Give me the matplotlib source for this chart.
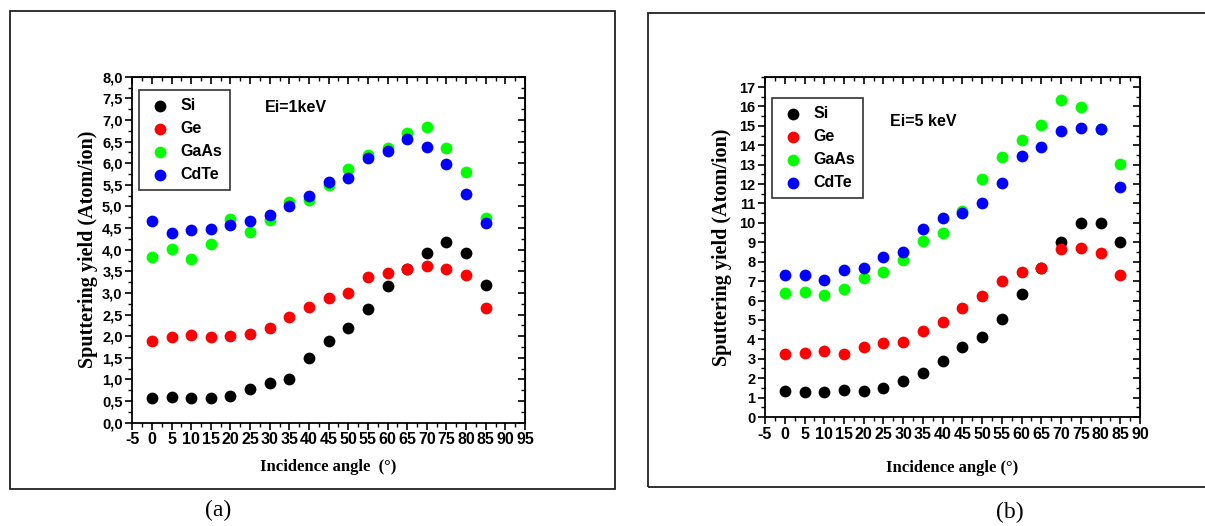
import matplotlib
matplotlib.use("Agg")
import matplotlib.pyplot as plt
import numpy as np
from matplotlib.ticker import MultipleLocator, FuncFormatter
from matplotlib.patches import Rectangle

angles = [0, 5, 10, 15, 20, 25, 30, 35, 40, 45, 50, 55, 60, 65, 70, 75, 80, 85]
materials = ['Si', 'Ge', 'GaAs', 'CdTe']
colors = ['#000000', '#ff0000', '#00ff00', '#0000ff']

# Ei = 1 keV
si_1kev = [0.58, 0.59, 0.58, 0.58, 0.61, 0.77, 0.91, 1.02, 1.50, 1.90, 2.20, 2.62, 3.16, 3.55, 3.92, 4.17, 3.93, 3.18]
ge_1kev = [1.89, 1.97, 2.02, 1.98, 2.01, 2.05, 2.19, 2.45, 2.67, 2.89, 3.01, 3.36, 3.45, 3.55, 3.63, 3.56, 3.42, 2.65]
gaas_1kev = [3.82, 4.01, 3.78, 4.14, 4.70, 4.41, 4.68, 5.11, 5.14, 5.49, 5.86, 6.19, 6.34, 6.69, 6.83, 6.35, 5.79, 4.73]
cdte_1kev = [4.67, 4.39, 4.45, 4.47, 4.57, 4.67, 4.80, 5.01, 5.24, 5.57, 5.66, 6.13, 6.29, 6.55, 6.37, 5.97, 5.28, 4.61]

# Ei = 5 keV
si_5kev = [1.34, 1.29, 1.30, 1.37, 1.32, 1.51, 1.83, 2.28, 2.88, 3.62, 4.11, 5.06, 6.34, 7.70, 9.01, 9.97, 9.99, 9.03]
ge_5kev = [3.27, 3.32, 3.41, 3.26, 3.63, 3.82, 3.84, 4.44, 4.88, 5.64, 6.24, 7.01, 7.45, 7.69, 8.67, 8.69, 8.43, 7.32]
gaas_5kev = [6.41, 6.46, 6.31, 6.58, 7.15, 7.45, 8.07, 9.07, 9.48, 10.63, 12.24, 13.40, 14.26, 15.03, 16.31, 15.96, 14.84, 13.01]
cdte_5kev = [7.34, 7.30, 7.08, 7.58, 7.68, 8.23, 8.52, 9.67, 10.27, 10.52, 11.05, 12.03, 13.47, 13.93, 14.72, 14.91, 14.86, 11.86]

SANS = 'Liberation Sans'
SERIF = 'Liberation Serif'

fig = plt.figure(figsize=(12.05, 5.26), dpi=100)

# outer frames around each panel
fig.patches.append(Rectangle((0.0083, 0.0703), 0.502, 0.9087, transform=fig.transFigure,
                             fill=False, edgecolor='#222222', linewidth=1.3))
fig.patches.append(Rectangle((0.5375, 0.0732), 0.47, 0.903, transform=fig.transFigure,
                             fill=False, edgecolor='#222222', linewidth=1.3))


def style_axes(ax, xmax, ymax, ymajor, yminor, comma):
    ax.set_xlim(-5, xmax)
    ax.set_ylim(0, ymax)
    ax.xaxis.set_major_locator(MultipleLocator(5))
    ax.xaxis.set_minor_locator(MultipleLocator(2.5))
    ax.yaxis.set_major_locator(MultipleLocator(ymajor))
    ax.yaxis.set_minor_locator(MultipleLocator(yminor))
    if comma:
        ax.yaxis.set_major_formatter(FuncFormatter(lambda v, p: ('%.1f' % v).replace('.', ',')))
    ax.xaxis.set_major_formatter(FuncFormatter(lambda v, p: '%d' % round(v)))
    ax.tick_params(which='major', direction='out', length=5, width=1.2, pad=2)
    ax.tick_params(which='minor', direction='out', length=3, width=1.0)
    for lab in ax.get_yticklabels():
        lab.set_fontfamily(SANS)
        lab.set_fontweight('bold')
        lab.set_fontsize(10.5)
    for lab in ax.get_xticklabels():
        lab.set_fontfamily(SANS)
        lab.set_fontweight('bold')
        lab.set_fontsize(11.5)
    for sp in ax.spines.values():
        sp.set_linewidth(1.3)
    # inward ticks on top and right
    top = ax.secondary_xaxis('top')
    top.xaxis.set_major_locator(MultipleLocator(5))
    top.xaxis.set_minor_locator(MultipleLocator(2.5))
    top.tick_params(which='major', direction='in', length=5, width=1.2, labeltop=False)
    top.tick_params(which='minor', direction='in', length=3, width=1.0)
    right = ax.secondary_yaxis('right')
    right.yaxis.set_major_locator(MultipleLocator(ymajor))
    right.yaxis.set_minor_locator(MultipleLocator(yminor))
    right.tick_params(which='major', direction='in', length=5, width=1.2, labelright=False)
    right.tick_params(which='minor', direction='in', length=3, width=1.0)


def draw_panel(ax, series, energy_text, text_xy, legend_xy):
    for name, vals, c in zip(materials, series, colors):
        ax.scatter(angles, vals, s=72, color=c, label=name, zorder=3, linewidths=0)
    leg = ax.legend(loc='upper left', bbox_to_anchor=legend_xy, borderaxespad=0,
                    fancybox=False, edgecolor='#333333', framealpha=1,
                    handlelength=1.6, handletextpad=0.5, labelspacing=0.5, borderpad=0.5,
                    prop={'family': SANS, 'weight': 'bold', 'size': 11.5})
    leg.get_frame().set_linewidth(1.2)
    ax.text(text_xy[0], text_xy[1], energy_text, transform=ax.transAxes,
            fontfamily=SANS, fontweight='bold', fontsize=11.5, va='center', ha='left')


ax1 = fig.add_axes([0.1098, 0.1964, 0.3259, 0.6578])
draw_panel(ax1, [si_1kev, ge_1kev, gaas_1kev, cdte_1kev], 'Ei=1keV', (0.338, 0.912), (0.017, 0.962))
style_axes(ax1, 95, 8.0, 0.5, 0.25, True)
ax1.set_xlabel('Incidence angle  (°)', fontfamily=SERIF, fontweight='bold', fontsize=12, labelpad=8)
ax1.set_ylabel('Sputtering yield (Atom/ion)', fontfamily=SERIF, fontweight='bold', fontsize=14.5, labelpad=3)

ax2 = fig.add_axes([0.6349, 0.2072, 0.3112, 0.6458])
draw_panel(ax2, [si_5kev, ge_5kev, gaas_5kev, cdte_5kev], 'Ei=5 keV', (0.333, 0.871), (0.0187, 0.939))
style_axes(ax2, 90, 17.5, 1, 0.5, False)
ax2.set_xlabel('Incidence angle (°)', fontfamily=SERIF, fontweight='bold', fontsize=12, labelpad=13)
ax2.set_ylabel('Sputtering yield (Atom/ion)', fontfamily=SERIF, fontweight='bold', fontsize=14.5, labelpad=5)

fig.text(218 / 1205, 1 - 510 / 526, '(a)', fontfamily=SERIF, fontsize=17, ha='center', va='center')
fig.text(1010 / 1205, 1 - 512 / 526, '(b)', fontfamily=SERIF, fontsize=17, ha='center', va='center')

fig.savefig('out.png', dpi=100)
